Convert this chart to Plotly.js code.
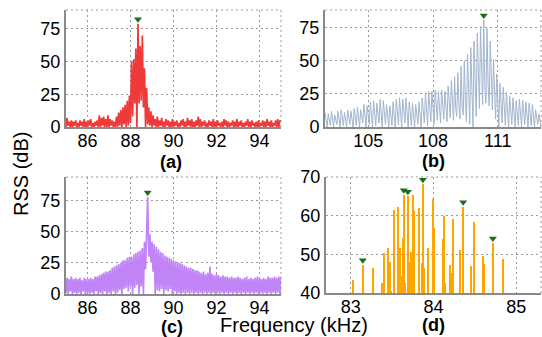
<!DOCTYPE html>
<html><head><meta charset="utf-8">
<script src="https://cdn.plot.ly/plotly-3.0.1.min.js"></script>
<style>html,body{margin:0;padding:0;background:#fff}#chart{width:542px;height:337px}</style>
</head><body><div id="chart"></div>
<script>
// ---- data ----
// (a) 85-95 kHz, equally spaced bins
const aStart = 85, aEnd = 95;
const aRss = [
0,7,1,4,0,5,0,4,1,5,0,3,0,5,1,4,0,6,0,4,
0,5,1,6,0,3,0,4,1,5,0,9,0,7,1,8,0,6,0,9,
0,6,1,5,0,4,0,8,0,11,1,13,0,15,2,17,0,20,1,24,
3,50,8,52,18,60,0,79,18,62,20,70,15,45,0,30,2,15,1,12,
0,9,1,6,0,8,0,5,1,7,0,4,0,6,1,5,0,4,0,6,
0,4,1,5,0,3,0,5,1,6,0,4,0,7,1,5,0,6,0,4,
0,5,1,8,0,6,0,4,1,5,0,3,0,5,1,4,0,6,0,4,
0,5,1,3,0,4,0,6,1,5,0,4,0,3,1,5,0,4,0,6,
0,4,1,5,0,3,0,4,1,6,0,4,0,5,1,3,0,4,0,5,
0,3,1,5,0,4,0,6,1,4,0,5,0,3,1,5,0,6,0,5,
4];
// (b) 103-113 kHz
const bStart = 103, bEnd = 113;
const bRss = [
11,4,0, 10,6,1, 12,3,0, 9,5,2, 12,7,0, 13,4,1, 11,6,0, 13,8,2, 12,5,0, 14,7,1,
15,9,0, 13,6,3, 17,8,0, 16,10,2, 19,7,0, 20,9,1, 18,12,3, 21,8,0, 20,10,2, 17,7,0,
16,9,1, 19,6,0, 21,11,2, 22,8,0, 21,12,3, 22,9,0, 19,7,1, 18,10,0, 17,8,2, 19,11,0,
22,9,3, 26,12,1, 27,10,4, 27,13,2, 28,11,5, 27,14,3, 28,12,6, 27,15,4, 31,13,7, 35,16,5,
38,14,8, 41,17,6, 46,15,9, 50,18,4, 55,20,2, 60,24,0, 65,28,8, 71,31,14, 76,33,17, 81,30,18,
75,32,16, 65,29,13, 51,27,6, 40,22,0, 33,15,3, 30,12,1, 26,10,0, 23,9,2, 22,11,0, 20,8,1,
21,10,0, 20,7,2, 19,9,0, 18,6,1, 17,8,0, 13,5,2, 10,4,0];
// (c) 85-95 kHz
const cStart = 85, cEnd = 95;
const cRss = [
1,13,0,12,2,14,0,12,1,13,0,12,1,13,0,11,2,13,0,12,
1,12,0,13,1,12,0,14,2,14,0,15,1,16,0,17,2,18,0,18,
1,19,0,21,2,22,0,23,1,24,3,25,0,27,4,27,5,29,2,30,
6,30,0,32,5,33,7,34,0,35,6,37,
0,42,20,50,78,30,48,26,42,18,40,0,38,
3,36,2,34,4,33,0,31,3,30,
2,29,4,28,0,27,2,26,0,25,
1,25,0,24,1,23,0,22,1,21,
0,21,1,20,0,19,1,19,0,18,
1,17,0,18,1,16,0,17,1,22,
0,16,1,15,0,16,1,15,0,14,
1,15,0,14,1,14,0,13,1,14,
0,13,1,13,0,14,1,13,0,12,
1,13,0,14,1,12,0,13,1,12,
0,13,1,14,0,13,1,12,0,13,
1,12,0,14,1,13,0,13,1,14,
0,13,1,14,0,14];
// (d) discrete tones
const dFreq = [83.024,83.145,83.266,83.383,83.403,83.452,83.468,83.484,83.524,83.573,83.589,83.609,83.629,83.641,83.657,83.690,83.702,83.730,83.750,83.766,83.819,83.827,83.859,83.871,83.887,83.931,83.988,84.008,84.109,84.125,84.137,84.198,84.226,84.238,84.319,84.359,84.452,84.492,84.597,84.609,84.718,84.839];
const dRss = [43.4,47.3,46.4,42.6,50.3,51.6,48.1,40.6,61.4,62.3,51.6,44.3,54.1,65.4,42.6,65.0,48.1,50.7,65.3,61.1,61.9,42.6,47.7,68.1,46.4,51.6,64.4,56.9,54.0,59.9,42.6,47.3,45.1,59.1,51.1,62.3,46.9,58.3,49.6,47.5,52.9,48.7];
const dPeakFreq = [83.145,83.641,83.690,83.871,84.359,84.718];

const aTicks = [86,88,90,92,94], bTicks = [105,108,111], cTicks = [86,88,90,92,94], dTicks = [83,84,85];
const rssTicks = [0,25,50,75], dRssTicks = [40,50,60,70];

// ---- helpers ----
const W = 542, H = 337;
function bins(s, e, n){ const o=[]; for(let i=0;i<n;i++) o.push(s + (e-s)*i/(n-1)); return o; }
const aX = bins(aStart,aEnd,aRss.length), bX = bins(bStart,bEnd,bRss.length), cX = bins(cStart,cEnd,cRss.length);
function peak(x,y){ let k=0; for(let i=1;i<y.length;i++) if(y[i]>y[k]) k=i; return {x:[x[k]], y:[y[k]]}; }

const dom = {
  ax:[66/W, 281/W], bx:[325/W, 541/W], dx:[326/W, 541/W],
  topY:[1-127/H, 1-10/H], botY:[1-294/H, 1-177/H], dY:[1-293/H, 1-177/H]
};
const ranges = {a:[0,89.5], b:[0,88.5], c:[0,94], d:[40,70]};
function offs(r, d, px){ return px*(r[1]-r[0])/((d[1]-d[0])*H); }

const green = '#1c6e1c';
const pa = peak(aX,aRss), pb = peak(bX,bRss), pc = peak(cX,cRss);
const dmY = dPeakFreq.map(f => dRss[dFreq.indexOf(f)]);

const traces = [
  {x:aX, y:aRss, type:'scatter', mode:'lines', line:{color:'#f03a3a', width:1.7}, xaxis:'x', yaxis:'y', hoverinfo:'skip'},
  {x:pa.x, y:pa.y.map(v=>v+offs(ranges.a,dom.topY,4.5)), mode:'markers', marker:{symbol:'triangle-down', size:7, color:green}, xaxis:'x', yaxis:'y'},
  {x:bX, y:bRss, type:'scatter', mode:'lines', line:{color:'#a2b5ce', width:1}, xaxis:'x2', yaxis:'y2', hoverinfo:'skip'},
  {x:pb.x, y:pb.y.map(v=>v+offs(ranges.b,dom.topY,4.5)), mode:'markers', marker:{symbol:'triangle-down', size:7, color:green}, xaxis:'x2', yaxis:'y2'},
  {x:cX, y:cRss, type:'scatter', mode:'lines', line:{color:'#c084f6', width:1.7}, xaxis:'x3', yaxis:'y3', hoverinfo:'skip'},
  {x:pc.x, y:pc.y.map(v=>v+offs(ranges.c,dom.botY,4.5)), mode:'markers', marker:{symbol:'triangle-down', size:7, color:green}, xaxis:'x3', yaxis:'y3'},
  {x:dFreq, y:dRss, type:'bar', width:0.024, marker:{color:'#ffa500', line:{width:0}}, xaxis:'x4', yaxis:'y4'},
  {x:dPeakFreq, y:dmY.map(v=>v+offs(ranges.d,dom.dY,4.5)), mode:'markers', marker:{symbol:'triangle-down', size:7, color:green}, xaxis:'x4', yaxis:'y4'}
];

const FONT = 'Liberation Sans, Arial, Helvetica, sans-serif';
function ax(extra){
  return Object.assign({
    showline:true, linecolor:'#8a8a8a', linewidth:2, mirror:false,
    showgrid:true, gridcolor:'#9a9a9a', gridwidth:1, griddash:'2px,3px',
    zeroline:false, ticks:'', tickmode:'array', ticklabelstandoff:0,
    tickfont:{family:FONT, size:18, color:'#000'}, fixedrange:true
  }, extra);
}
const xt = {ticklabelstandoff:-4};

const shapes = [];
[['x','y'],['x2','y2'],['x3','y3'],['x4','y4']].forEach(([xa,ya])=>{
  const base = {type:'line', xref:xa+' domain', yref:ya+' domain', line:{color:'#9a9a9a', width:1, dash:'2px,3px'}};
  shapes.push(Object.assign({x0:0,x1:1,y0:1,y1:1}, base));
  shapes.push(Object.assign({x0:1,x1:1,y0:0,y1:1}, base));
});

function ann(text, x, y, size, bold, angle){
  return {text: bold ? '<b>'+text+'</b>' : text, x:x/W, y:1-y/H, xref:'paper', yref:'paper',
    showarrow:false, xanchor:'center', yanchor:'middle', textangle:angle||0,
    font:{family:FONT, size:size, color:'#000'}};
}

const layout = {
  width:W, height:H, margin:{l:0,r:0,t:0,b:0}, paper_bgcolor:'#fff', plot_bgcolor:'#fff',
  showlegend:false, bargap:0,
  xaxis: ax(Object.assign({domain:dom.ax, anchor:'y', range:[aStart,aEnd], tickvals:aTicks}, xt)),
  yaxis: ax({domain:dom.topY, anchor:'x', range:ranges.a, tickvals:rssTicks}),
  xaxis2: ax(Object.assign({domain:dom.bx, anchor:'y2', range:[bStart,bEnd], tickvals:bTicks}, xt)),
  yaxis2: ax({domain:dom.topY, anchor:'x2', range:ranges.b, tickvals:rssTicks}),
  xaxis3: ax(Object.assign({domain:dom.ax, anchor:'y3', range:[cStart,cEnd], tickvals:cTicks}, xt)),
  yaxis3: ax({domain:dom.botY, anchor:'x3', range:ranges.c, tickvals:rssTicks}),
  xaxis4: ax(Object.assign({domain:dom.dx, anchor:'y4', range:[82.7,85.3], tickvals:dTicks}, xt)),
  yaxis4: ax({domain:dom.dY, anchor:'x4', range:ranges.d, tickvals:dRssTicks}),
  shapes: shapes,
  annotations: [
    ann('(a)', 171, 162, 18, true),
    ann('(b)', 433, 161, 18, true),
    ann('(c)', 172, 327, 18, true),
    ann('(d)', 433, 325, 18, true),
    ann('Frequency (kHz)', 294, 325, 20, false),
    ann('RSS (dB)', 21, 174, 20, false, -90)
  ]
};

Plotly.newPlot('chart', traces, layout, {displayModeBar:false, staticPlot:true});
</script></body></html>
